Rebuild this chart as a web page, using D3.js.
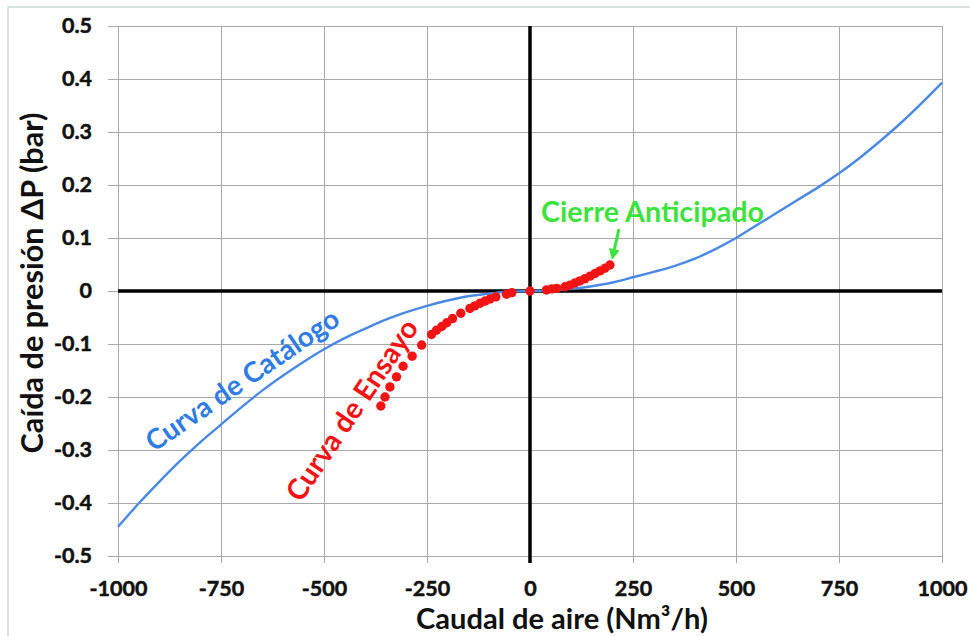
<!DOCTYPE html>
<html>
<head>
<meta charset="utf-8">
<script src="https://cdn.jsdelivr.net/npm/d3@7"></script>
<style>
  html, body { margin: 0; padding: 0; background: #fff; }
  svg { display: block; }
</style>
</head>
<body>
<svg id="chart" width="970" height="636"></svg>
<script>
// ---------- data

const X_TICKS = [-1000, -750, -500, -250, 0, 250, 500, 750, 1000];
const Y_TICKS = [-0.5, -0.4, -0.3, -0.2, -0.1, 0, 0.1, 0.2, 0.3, 0.4, 0.5];

// catalogue curve (Nm3/h, bar)
const CATALOG_Q = [-1000, -950, -900, -850, -800, -750, -700, -650, -600, -550, -500, -450, -400, -350, -300, -250, -200, -150, -100, -50,
  0, 50, 100, 150, 200, 250, 300, 350, 400, 450, 500, 550, 600, 650, 700, 750, 800, 850, 900, 950, 1000];
const CATALOG_DP = [-0.445, -0.401, -0.360, -0.321, -0.285, -0.252, -0.219, -0.188, -0.160, -0.134, -0.110, -0.089, -0.071, -0.054, -0.040, -0.028, -0.018, -0.010, -0.005, -0.001,
  0, 0.001, 0.004, 0.009, 0.016, 0.026, 0.036, 0.047, 0.061, 0.079, 0.100, 0.124, 0.148, 0.172, 0.196, 0.222, 0.251, 0.283, 0.317, 0.354, 0.393];

// test points
const TEST_Q = [-362, -352, -340, -324, -308, -286, -263, -239, -227, -214, -202, -188, -168, -146, -134, -121, -109, -97, -83, -57, -44,
  0, 40, 53, 65, 85, 97, 109, 121, 133, 146, 158, 170, 182, 194];
const TEST_DP = [-0.217, -0.200, -0.181, -0.162, -0.142, -0.123, -0.102, -0.082, -0.074, -0.067, -0.060, -0.052, -0.042, -0.033, -0.028, -0.023, -0.019, -0.015, -0.011, -0.006, -0.003,
  0, 0.002, 0.004, 0.005, 0.008, 0.011, 0.015, 0.019, 0.023, 0.028, 0.033, 0.038, 0.043, 0.049];

const X_TITLE = "Caudal de aire (Nm³/h)";
const Y_TITLE = "Caída de presión ΔP (bar)";
const LABEL_CATALOG = "Curva de Catálogo";
const LABEL_TEST = "Curva de Ensayo";
const LABEL_EARLY = "Cierre Anticipado";

// ---------- look

const FONT = "Lato, 'Open Sans', 'DejaVu Sans', sans-serif";
const BLUE_LINE = "#4a89e3";
const BLUE_TEXT = "#2f7ce2";
const RED = "#f21414";
const GREEN = "#3de33d";
const GRID = "#a8a8a8";
const INK = "#111";

const svg = d3.select("#chart");
const plotLeft = 118, plotRight = 942, plotTop = 26, plotBottom = 556;

const x = d3.scaleLinear().domain([-1000, 1000]).range([plotLeft, plotRight]);
const y = d3.scaleLinear().domain([-0.5, 0.5]).range([plotBottom, plotTop]);

// shrink/grow a text's font-size so it spans a given length
function fitWidth(sel, target) {
  const len = sel.node().getComputedTextLength();
  const fs = parseFloat(sel.attr("font-size"));
  sel.attr("font-size", (fs * target / len).toFixed(2));
  return sel;
}

// outer chart frame
svg.append("rect")
  .attr("x", 8).attr("y", 7)
  .attr("width", 1000).attr("height", 700)
  .attr("fill", "none")
  .attr("stroke", "#cfd6d6")
  .attr("stroke-width", 1.5);

// ---------- grid

const grid = svg.append("g").attr("stroke", GRID).attr("stroke-width", 1.2).attr("shape-rendering", "crispEdges");

grid.selectAll("line.h")
  .data(Y_TICKS)
  .join("line")
  .attr("class", "h")
  .attr("x1", plotLeft - 10).attr("x2", plotRight)
  .attr("y1", (d) => Math.round(y(d)) + 0.5).attr("y2", (d) => Math.round(y(d)) + 0.5);

grid.selectAll("line.v")
  .data(X_TICKS)
  .join("line")
  .attr("class", "v")
  .attr("x1", (d) => Math.round(x(d)) + 0.5).attr("x2", (d) => Math.round(x(d)) + 0.5)
  .attr("y1", plotTop).attr("y2", plotBottom + 7);

// zero axes
svg.append("line")
  .attr("x1", plotLeft).attr("x2", plotRight)
  .attr("y1", y(0)).attr("y2", y(0))
  .attr("stroke", "#000").attr("stroke-width", 3.5);
svg.append("line")
  .attr("x1", x(0)).attr("x2", x(0))
  .attr("y1", plotTop).attr("y2", plotBottom + 7)
  .attr("stroke", "#000").attr("stroke-width", 3.5);

// ---------- tick labels

function styleTicks(g) {
  g.select(".domain").remove();
  g.selectAll("text")
    .attr("font-family", FONT)
    .attr("font-weight", "bold")
    .attr("font-size", 21.5)
    .attr("fill", INK)
    .attr("stroke", INK)
    .attr("stroke-width", 0.5);
}

const yAxis = d3.axisLeft(y)
  .tickValues(Y_TICKS)
  .tickSize(0)
  .tickPadding(26)
  .tickFormat((d) => (d === 0 ? "0" : d.toFixed(1)));

svg.append("g").attr("transform", `translate(${plotLeft},0)`).call(yAxis).call(styleTicks);

const xAxis = d3.axisBottom(x)
  .tickValues(X_TICKS)
  .tickSize(0)
  .tickPadding(25)
  .tickFormat((d) => String(d));

svg.append("g").attr("transform", `translate(0,${plotBottom})`).call(xAxis).call(styleTicks);

// ---------- axis titles

svg.append("text")
  .attr("x", 562).attr("y", 629)
  .attr("text-anchor", "middle")
  .attr("font-family", FONT)
  .attr("font-weight", "bold")
  .attr("font-size", 28)
  .attr("fill", INK)
  .text(X_TITLE)
  .call(fitWidth, 292);

svg.append("text")
  .attr("transform", "translate(43,283) rotate(-90)")
  .attr("text-anchor", "middle")
  .attr("font-family", FONT)
  .attr("font-weight", "bold")
  .attr("font-size", 28)
  .attr("fill", INK)
  .text(Y_TITLE)
  .call(fitWidth, 341);

// ---------- series

const catalog = CATALOG_Q.map((q, i) => ({ q, dp: CATALOG_DP[i] }));
const tests = TEST_Q.map((q, i) => ({ q, dp: TEST_DP[i] }));

const line = d3.line()
  .x((d) => x(d.q))
  .y((d) => y(d.dp))
  .curve(d3.curveMonotoneX);

svg.append("path")
  .datum(catalog)
  .attr("d", line)
  .attr("fill", "none")
  .attr("stroke", BLUE_LINE)
  .attr("stroke-width", 2.4);

svg.append("g")
  .selectAll("circle")
  .data(tests)
  .join("circle")
  .attr("cx", (d) => x(d.q))
  .attr("cy", (d) => y(d.dp))
  .attr("r", 4.7)
  .attr("fill", RED);

// ---------- annotations

svg.append("text")
  .attr("transform", `translate(${x(-685)},${y(-0.183)}) rotate(-34.5)`)
  .attr("text-anchor", "middle")
  .attr("font-family", FONT)
  .attr("font-weight", "bold")
  .attr("font-size", 26)
  .attr("fill", BLUE_TEXT)
  .text(LABEL_CATALOG)
  .call(fitWidth, 228);

svg.append("text")
  .attr("transform", `translate(${x(-412)},${y(-0.235)}) rotate(-56)`)
  .attr("text-anchor", "middle")
  .attr("font-family", FONT)
  .attr("font-weight", "bold")
  .attr("font-size", 26)
  .attr("fill", RED)
  .text(LABEL_TEST)
  .call(fitWidth, 212);

svg.append("text")
  .attr("x", x(27)).attr("y", y(0.13))
  .attr("font-family", FONT)
  .attr("font-weight", "bold")
  .attr("font-size", 26)
  .attr("fill", GREEN)
  .text(LABEL_EARLY)
  .call(fitWidth, 223);

// arrow from the label down to the last test point
const last = tests[tests.length - 1];
const tipX = x(last.q) + 2, tipY = y(last.dp) - 5;
const startX = tipX + 7, startY = tipY - 31;
const ang = Math.atan2(tipY - startY, tipX - startX);
const headLen = 11, headHalf = 5.5;
const baseX = tipX - headLen * Math.cos(ang), baseY = tipY - headLen * Math.sin(ang);

svg.append("line")
  .attr("x1", startX).attr("y1", startY)
  .attr("x2", baseX).attr("y2", baseY)
  .attr("stroke", GREEN).attr("stroke-width", 3);

svg.append("path")
  .attr("d", `M${tipX},${tipY}` +
    `L${baseX - headHalf * Math.sin(ang)},${baseY + headHalf * Math.cos(ang)}` +
    `L${baseX + headHalf * Math.sin(ang)},${baseY - headHalf * Math.cos(ang)}Z`)
  .attr("fill", GREEN);
</script>
</body>
</html>
